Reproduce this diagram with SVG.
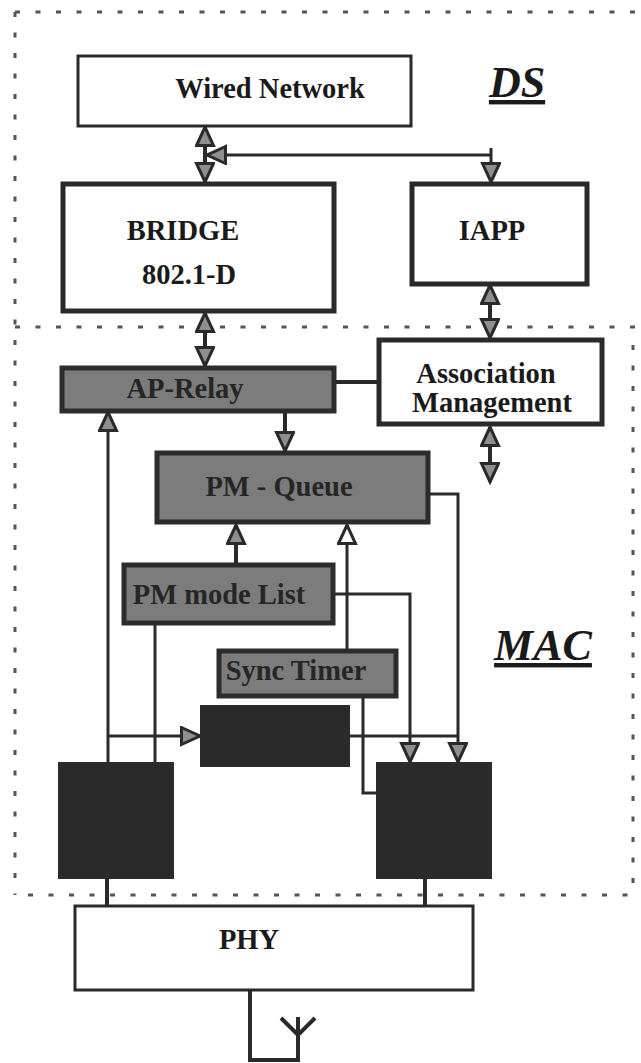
<svg xmlns="http://www.w3.org/2000/svg" width="641" height="1063" viewBox="0 0 641 1063">
<style>
text{font-family:"Liberation Serif","Times New Roman",serif;font-weight:bold;fill:#1a1a1a;text-anchor:middle}
.lb{font-size:28.500px}
.dk{fill:#262626;font-size:28.500px}
.big{font-size:44px;font-style:italic;text-decoration:underline}
.w3{fill:#fff;stroke:#2a2a2a;stroke-width:3}
.w5{fill:#fff;stroke:#2a2a2a;stroke-width:5}
.g{fill:#7c7c7c;stroke:#2c2c2c;stroke-width:5}
.k{fill:#2b2b2b;stroke:none}
.c{fill:none;stroke:#2a2a2a;stroke-width:3}
.c2{fill:none;stroke:#2a2a2a;stroke-width:4}
.d{fill:none;stroke:#555;stroke-width:3;stroke-dasharray:5 15.500}
.ga{marker-end:url(#h)}
.gb{marker-start:url(#h);marker-end:url(#h)}
</style>
<defs>
<marker id="h" markerUnits="userSpaceOnUse" markerWidth="24" markerHeight="22" refX="20" refY="10" orient="auto-start-reverse"><path d="M1.500 1.500 L20 10 L1.500 18.500 Z" fill="#8f8f8f" stroke="#2a2a2a" stroke-width="3"/></marker>
<marker id="o" markerUnits="userSpaceOnUse" markerWidth="24" markerHeight="22" refX="20" refY="10" orient="auto"><path d="M1.500 1.500 L20 10 L1.500 18.500 Z" fill="#fff" stroke="#2a2a2a" stroke-width="3"/></marker>
</defs>
<g id="boundaries">
<path class="d" d="M15 12 H641"/>
<path class="d" d="M15 12 V895"/>
<path class="d" d="M15 327 H641"/>
<path class="d" d="M633 345 V885"/>
<path class="d" d="M28 895 H633"/>
</g>
<g id="connectors">
<path class="c ga" d="M491 148 V182"/>
<path class="c ga" d="M491 155 H207"/>
<path class="c2 gb" d="M205 127 V182"/>
<path class="c2 gb" d="M205 313 V366"/>
<path class="c2 gb" d="M490 285 V338"/>
<path class="c2 gb" d="M490 427 V482"/>
<path class="c2" d="M335 382 H377"/>
<path class="c2 ga" d="M285 412 V451"/>
<path class="c ga" d="M429 494 H458 V762"/>
<path class="c2 ga" d="M236 563 V525"/>
<path class="c" d="M347 649 V525" marker-end="url(#o)"/>
<path class="c ga" d="M334 594 H410 V762"/>
<path class="c" d="M155 624 V762"/>
<path class="c ga" d="M108 762 V412"/>
<path class="c ga" d="M108 736 H200"/>
<path class="c" d="M350 736 H458"/>
<path class="c" d="M363 697 V793 H376"/>
<path class="c2" d="M107 879 V906"/>
<path class="c2" d="M425 879 V906"/>
<path class="c2" d="M250 990 V1060 H298 V1017"/>
<path class="c2" d="M281 1018 L298 1035 L315 1018"/>
</g>
<g id="wired-network"><rect class="w3" x="78" y="56" width="333" height="70"/><text class="lb" x="270" y="98">Wired Network</text></g>
<g id="ds-label"><text class="big" x="517" y="97">DS</text></g>
<g id="bridge"><rect class="w5" x="63" y="184" width="271" height="127"/><text class="lb" x="183" y="240">BRIDGE</text><text class="lb" x="189" y="284">802.1-D</text></g>
<g id="iapp"><rect class="w5" x="412" y="184" width="175" height="100"/><text class="lb" x="492" y="240">IAPP</text></g>
<g id="association-management"><rect class="w5" x="379" y="340" width="223" height="84"/><text class="lb" x="486" y="383">Association</text><text class="lb" x="492" y="412">Management</text></g>
<g id="ap-relay"><rect class="g" x="62" y="368" width="272" height="43"/><text class="dk" x="185" y="398">AP-Relay</text></g>
<g id="pm-queue"><rect class="g" x="157" y="453" width="271" height="69"/><text class="dk" x="279" y="496">PM - Queue</text></g>
<g id="pm-mode-list"><rect class="g" x="124" y="565" width="209" height="58"/><text class="dk" x="219" y="604">PM mode List</text></g>
<g id="sync-timer"><rect class="g" x="219" y="651" width="177" height="45"/><text class="dk" x="296" y="680">Sync Timer</text></g>
<g id="dark-middle"><rect class="k" x="200" y="705" width="150" height="62"/></g>
<g id="dark-left"><rect class="k" x="58" y="762" width="116" height="117"/></g>
<g id="dark-right"><rect class="k" x="376" y="762" width="116" height="117"/></g>
<g id="mac-label"><text class="big" x="543" y="660">MAC</text></g>
<g id="phy"><rect class="w3" x="75" y="906" width="398" height="84"/><text class="lb" x="249" y="949">PHY</text></g>
</svg>
